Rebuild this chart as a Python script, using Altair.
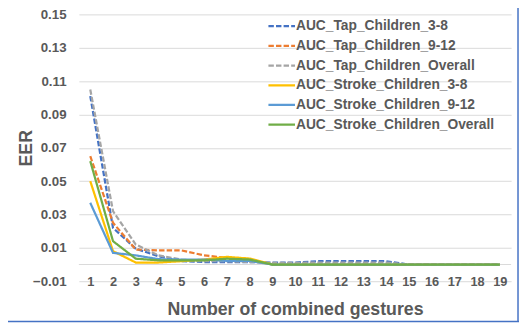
import altair as alt
import pandas as pd

# ---- data ----
gestures = list(range(1, 20))
series_names = [
    "AUC_Tap_Children_3-8",
    "AUC_Tap_Children_9-12",
    "AUC_Tap_Children_Overall",
    "AUC_Stroke_Children_3-8",
    "AUC_Stroke_Children_9-12",
    "AUC_Stroke_Children_Overall",
]
tap_3_8 = [0.101, 0.022, 0.0095, 0.005, 0.002, 0.0015, 0.0015, 0.0015, 0.0012, 0.0012,
           0.002, 0.002, 0.002, 0.002, 0.0, 0.0, 0.0, 0.0, 0.0]
tap_9_12 = [0.065, 0.025, 0.009, 0.0085, 0.0085, 0.0055, 0.004, 0.003, 0.0, 0.0,
            0.0, 0.0, 0.0, 0.0, 0.0, 0.0, 0.0, 0.0, 0.0]
tap_overall = [0.105, 0.032, 0.012, 0.0055, 0.003, 0.002, 0.002, 0.0015, 0.001, 0.001,
               0.0012, 0.0012, 0.0012, 0.0012, 0.0, 0.0, 0.0, 0.0, 0.0]
stroke_3_8 = [0.050, 0.008, 0.0012, 0.0012, 0.002, 0.003, 0.0046, 0.0036, 0.0, 0.0,
              0.0, 0.0, 0.0, 0.0, 0.0, 0.0, 0.0, 0.0, 0.0]
stroke_9_12 = [0.037, 0.007, 0.0055, 0.0032, 0.003, 0.003, 0.0022, 0.0022, 0.0, 0.0,
               0.0, 0.0, 0.0, 0.0, 0.0, 0.0, 0.0, 0.0, 0.0]
stroke_overall = [0.062, 0.014, 0.0035, 0.0025, 0.0025, 0.0025, 0.0035, 0.003, 0.0, 0.0,
                  0.0, 0.0, 0.0, 0.0, 0.0, 0.0, 0.0, 0.0, 0.0]
y_ticks = [-0.01, 0.01, 0.03, 0.05, 0.07, 0.09, 0.11, 0.13, 0.15]

colors = ["#4472C4", "#ED7D31", "#A5A5A5", "#FFC000", "#5B9BD5", "#70AD47"]
dashes = [[5.5, 2.2], [5.5, 2.2], [5.5, 2.2], [1, 0], [1, 0], [1, 0]]

all_series = [tap_3_8, tap_9_12, tap_overall, stroke_3_8, stroke_9_12, stroke_overall]
rows = []
for name, vals in zip(series_names, all_series):
    for g, v in zip(gestures, vals):
        rows.append({"series": name, "n": g, "eer": v})
df = pd.DataFrame(rows)

FONT = "Liberation Sans"
TXT = "#595959"
GRID = "#D9D9D9"

legend = alt.Legend(
    title=None, orient="none", legendX=198, legendY=4,
    symbolType="M-2,0H2", symbolSize=182, symbolStrokeWidth=2.25,
    symbolFillColor="transparent",
    labelFont=FONT, labelFontSize=14, labelFontWeight="bold", labelColor=TXT,
    labelOffset=6.5, labelLimit=400, rowPadding=5, padding=0,
)

x_enc = alt.X(
    "n:Q",
    scale=alt.Scale(domain=[0.5, 19.5], nice=False, zero=False),
    axis=alt.Axis(
        values=gestures, tickCount=19, title="Number of combined gestures", grid=False, domain=False,
        ticks=False, tickSize=0, labelBaseline="middle", labelPadding=0, labelOverlap=False,
        labelFont=FONT, labelFontSize=13, labelFontWeight="bold", labelColor=TXT,
        titleFont=FONT, titleFontSize=18, titleFontWeight="bold", titleColor=TXT,
        titlePadding=13,
    ),
)
y_enc = alt.Y(
    "eer:Q",
    scale=alt.Scale(domain=[-0.01, 0.15], nice=False, zero=False),
    axis=alt.Axis(
        values=y_ticks, tickCount=9, format=".2f", title="EER", grid=True, gridColor=GRID, gridWidth=1,
        domain=False, ticks=False, tickSize=0, labelPadding=13, labelOverlap=False,
        labelFont=FONT, labelFontSize=13.5, labelFontWeight="bold", labelColor=TXT,
        titleFont=FONT, titleFontSize=18, titleFontWeight="bold", titleColor=TXT,
        titlePadding=-3,
    ),
)

lines = alt.Chart(df).mark_line(strokeWidth=2.25).encode(
    x=x_enc,
    y=y_enc,
    color=alt.Color("series:N", scale=alt.Scale(domain=series_names, range=colors), legend=legend),
    strokeDash=alt.StrokeDash("series:N", scale=alt.Scale(domain=series_names, range=dashes), legend=legend),
)

zero_line = alt.Chart(pd.DataFrame({"z": [0.0]})).mark_rule(color=GRID, strokeWidth=1).encode(
    y=alt.Y("z:Q")
)

frame = pd.DataFrame({"k": [0]})
border_right = alt.Chart(frame).mark_rule(color="#4472C4", strokeWidth=1.5).encode(
    x=alt.value(446), y=alt.value(-12), y2=alt.value(312)
)
border_bottom = alt.Chart(frame).mark_rule(color="#4472C4", strokeWidth=1.5).encode(
    x=alt.value(-72), x2=alt.value(447), y=alt.value(312)
)

chart = alt.layer(zero_line, lines, border_right, border_bottom).properties(
    width=439, height=271,
    autosize=alt.AutoSizeParams(type="none"),
    padding={"left": 72, "top": 4, "right": 8, "bottom": 42},
).configure_view(stroke=None)

chart.save("out.html", embed_options={"renderer": "svg", "actions": False})
